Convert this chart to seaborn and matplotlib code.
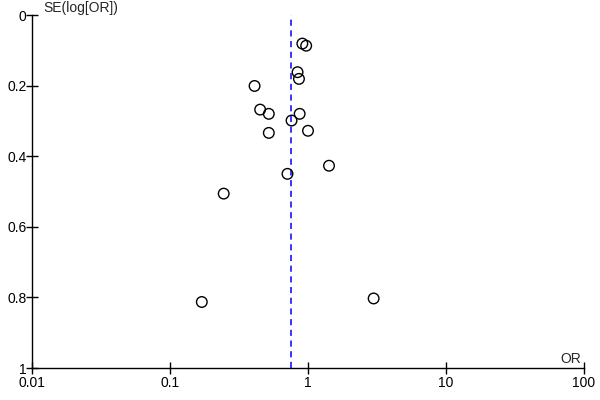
import matplotlib
matplotlib.use("Agg")
import matplotlib.pyplot as plt
import seaborn as sns
import pandas as pd

odds_ratio = [0.91, 0.97, 0.84, 0.86, 0.41, 0.45, 0.52, 0.87, 0.76, 1.00, 0.52, 1.42, 0.71, 0.245, 0.17, 2.99]
se_log_or = [0.081, 0.087, 0.162, 0.181, 0.201, 0.268, 0.280, 0.280, 0.299, 0.328, 0.334, 0.427, 0.450, 0.506, 0.813, 0.803]
pooled_or = 0.75
x_ticks = [0.01, 0.1, 1, 10, 100]
x_tick_labels = ["0.01", "0.1", "1", "10", "100"]
y_ticks = [0, 0.2, 0.4, 0.6, 0.8, 1]
y_tick_labels = ["0", "0.2", "0.4", "0.6", "0.8", "1"]

df = pd.DataFrame({"OR": odds_ratio, "SE": se_log_or})

sns.set_style("white")
plt.rcParams["font.family"] = ["Liberation Sans", "DejaVu Sans"]

fig = plt.figure(figsize=(6, 4), dpi=100)
ax = fig.add_axes([32/600, 1-368/400, (584-32)/600, (368-15)/400])

ax.axvline(pooled_or, color="#0000ff", linestyle=(0, (4, 3)), linewidth=1.1, zorder=1)
sns.scatterplot(data=df, x="OR", y="SE", ax=ax, s=58, facecolor="none",
                edgecolor="black", linewidth=1.0, zorder=3, legend=False)

ax.set_xscale("log")
ax.set_xlim(0.01, 100)
ax.set_ylim(1, 0)
ax.set_xticks(x_ticks)
ax.set_xticklabels(x_tick_labels)
ax.set_yticks(y_ticks)
ax.set_yticklabels(y_tick_labels)
ax.minorticks_off()
ax.tick_params(axis="both", which="major", bottom=True, left=True, top=False, right=False,
               direction="inout", length=8, width=1, color="black",
               labelsize=10, labelcolor="black", pad=0)
ax.tick_params(axis="x", pad=2)
ax.set_xlabel("")
ax.set_ylabel("")
for s in ["top", "right"]:
    ax.spines[s].set_visible(False)
for s in ["left", "bottom"]:
    ax.spines[s].set_color("black")
    ax.spines[s].set_linewidth(1)

ax.text(0.012, 0.0, "SE(log[OR])", fontsize=10, ha="left", va="bottom")
ax.text(96, 0.995, "OR", fontsize=10, ha="right", va="bottom")

fig.savefig("out.png", dpi=100)
